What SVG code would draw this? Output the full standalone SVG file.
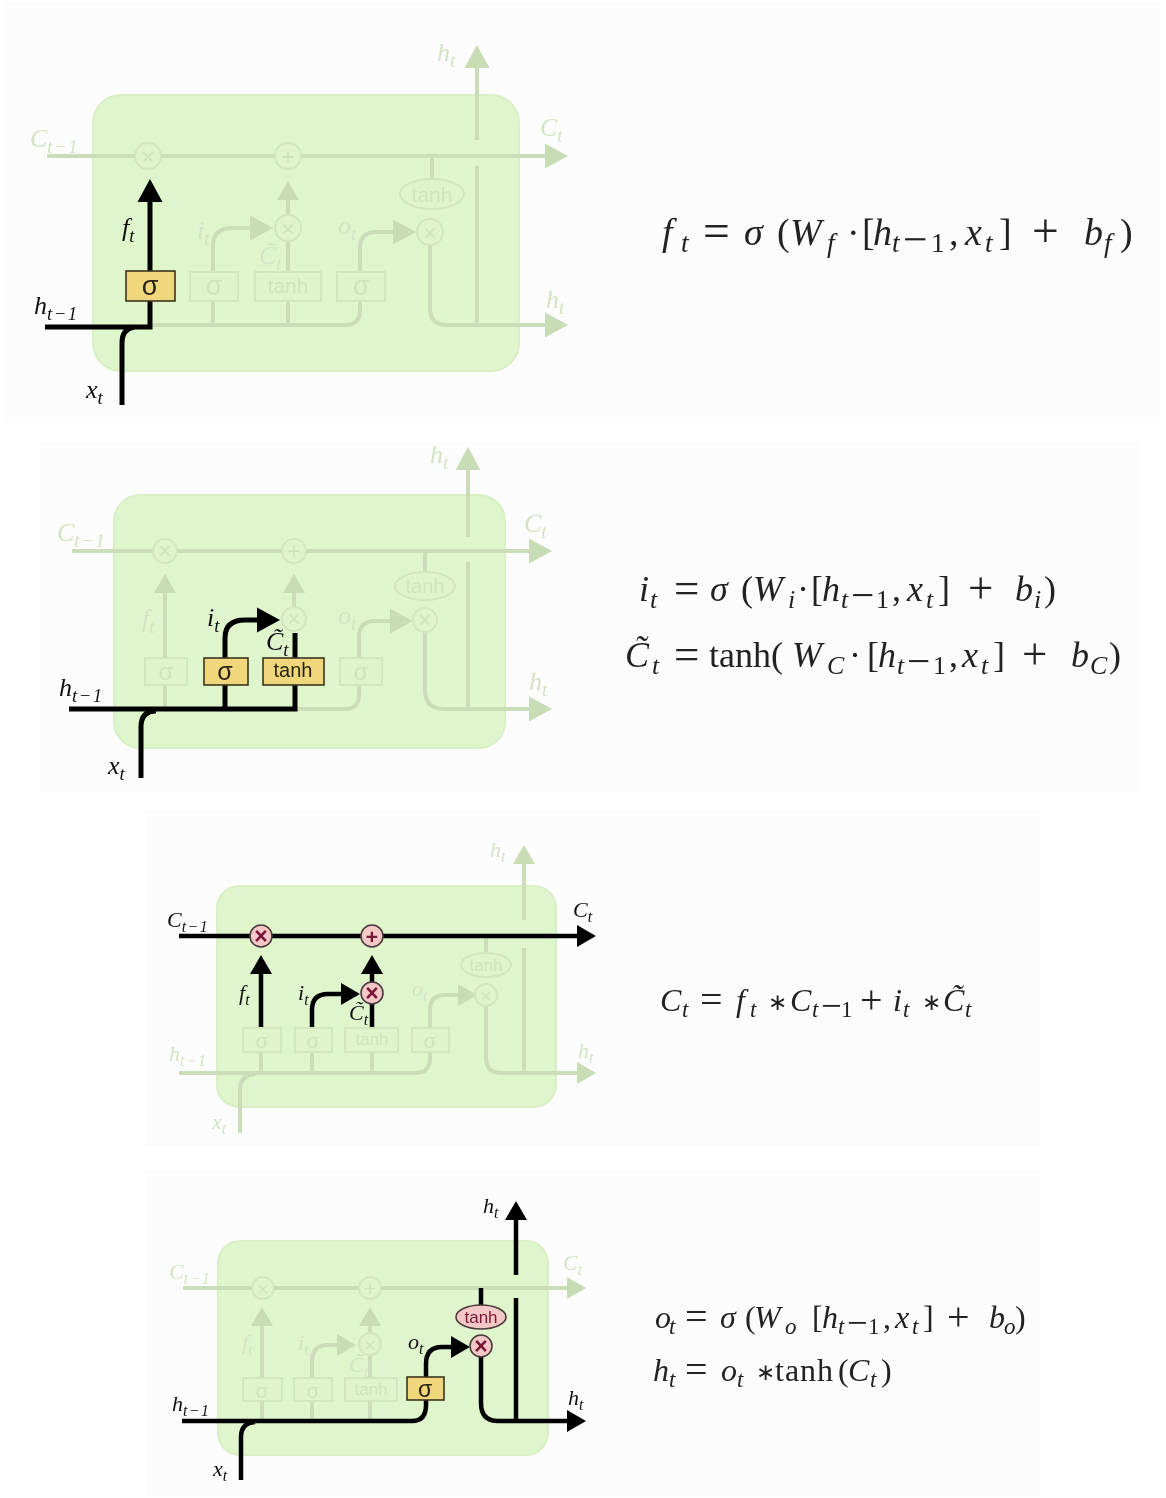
<svg xmlns="http://www.w3.org/2000/svg" width="1166" height="1498" viewBox="0 0 1166 1498">
<style>
text{font-family:"Liberation Serif","Times New Roman",serif;fill:#222}
.cell{fill:#dff5cc;stroke:#d9efc6;stroke-width:2}
.f{fill:none;stroke:#cbddb8;stroke-width:4}
.b{fill:none;stroke:#000;stroke-width:5}
.b3{stroke-width:4.5}
.fb{fill:#dff4cb;stroke:#d2e6bf;stroke-width:2}
.fc{fill:#dff4cb;stroke:#d2e6bf;stroke-width:2}
.bb{fill:#f0d77b;stroke:#3a3520;stroke-width:1.6}
.bc{fill:#f4c8c6;stroke:#4a3a3a;stroke-width:1.6}
.nl{font-family:"Liberation Sans",Arial,sans-serif;text-anchor:middle;dominant-baseline:central}
.nf{fill:#d0e4bc}
.nk{fill:#2a2410}
.np{fill:#7a1238}
.l{font-style:italic;font-size:26px;fill:#111}
.sm{font-size:22px}
.lf{fill:#d3e4c4}
.s{font-size:.72em}
.w{letter-spacing:1.5px}
.eq{font-size:38px;fill:#222}
.eqm{font-size:36px}
.eq2{font-size:32px}
.i{font-style:italic}
.r{font-style:normal}
.op{font-style:normal;font-size:1.25em}
.mn{font-style:normal;font-size:1.15em}
.ast{font-style:normal;font-size:.72em}
</style>
<defs>
<filter id="soft" x="0" y="0" width="1" height="1"><feGaussianBlur stdDeviation="0.6"/></filter>
<marker id="abL" markerUnits="userSpaceOnUse" markerWidth="24" markerHeight="28" refX="1" refY="14" orient="auto"><path d="M0,1.5 L23,14 L0,26.5Z" fill="#000"/></marker>
<marker id="afL" markerUnits="userSpaceOnUse" markerWidth="24" markerHeight="28" refX="1" refY="14" orient="auto"><path d="M0,1.5 L23,14 L0,26.5Z" fill="#c8dcb5"/></marker>
<marker id="abM" markerUnits="userSpaceOnUse" markerWidth="20" markerHeight="24" refX="1" refY="12" orient="auto"><path d="M0,1 L19,12 L0,23Z" fill="#000"/></marker>
<marker id="afM" markerUnits="userSpaceOnUse" markerWidth="20" markerHeight="24" refX="1" refY="12" orient="auto"><path d="M0,1 L19,12 L0,23Z" fill="#c8dcb5"/></marker>
</defs>
<rect width="1166" height="1498" fill="#fff"/>
<g filter="url(#soft)">
<g id="backdrops" fill="#fcfcfc">
<rect x="5" y="2" width="1155" height="418"/>
<rect x="40" y="442" width="1100" height="350"/>
<rect x="145" y="810" width="895" height="336"/>
<rect x="145" y="1170" width="895" height="326"/>
</g>
<g id="cell-1"><rect class="cell" x="93" y="95" width="426" height="276" rx="28"/></g>
<g id="cell-2"><rect class="cell" x="114" y="495" width="391" height="253" rx="26"/></g>
<g id="cell-3"><rect class="cell" x="217" y="886" width="339" height="221" rx="22"/></g>
<g id="cell-4"><rect class="cell" x="218" y="1241" width="330" height="214" rx="22"/></g>

<g id="connectors">
<g id="faded-1">
<path class="f" d="M47,156H546" marker-end="url(#afL)"/>
<path class="f" d="M477,140V67" marker-end="url(#afL)"/>
<path class="f" d="M477,166V325"/>
<path class="f" d="M150,325H345Q360,325 360,310V248Q360,232 376,232H394" marker-end="url(#afL)"/>
<path class="f" d="M213,325V246Q213,228 232,228H251" marker-end="url(#afL)"/>
<path class="f" d="M288,325V241"/>
<path class="f" d="M288,215V199" marker-end="url(#afM)"/>
<path class="f" d="M432,156V179"/>
<path class="f" d="M430,245V308Q430,325 447,325H546" marker-end="url(#afL)"/>
</g>
<g id="active-1">
<path class="b" d="M45,327H150V201" marker-end="url(#abL)"/>
<path class="b" d="M122,405V343Q122,329 134,327"/>
</g>
<g id="faded-2">
<path class="f" d="M72,551H530" marker-end="url(#afL)"/>
<path class="f" d="M468,537V469" marker-end="url(#afL)"/>
<path class="f" d="M468,562V709"/>
<path class="f" d="M295,709H345Q359,709 359,694V637Q359,621 375,621H391" marker-end="url(#afL)"/>
<path class="f" d="M165,709V592" marker-end="url(#afM)"/>
<path class="f" d="M294,607V592" marker-end="url(#afM)"/>
<path class="f" d="M425,551V572"/>
<path class="f" d="M425,633V690Q425,709 445,709H530" marker-end="url(#afL)"/>
</g>
<g id="active-2">
<path class="b" d="M69,709H295V633"/>
<path class="b" d="M225,709V638Q225,620 245,620H258" marker-end="url(#abL)"/>
<path class="b" d="M141,778V727Q141,711 156,711"/>
</g>
<g id="faded-3">
<path class="f" d="M179,1073H415Q430,1073 430,1058V1010Q430,995 445,995H459" marker-end="url(#afM)"/>
<path class="f" d="M240,1133V1090Q240,1075 255,1074"/>
<path class="f" d="M261,1052V1073M312,1052V1073M372,1052V1073"/>
<path class="f" d="M524,948V1073"/>
<path class="f" d="M524,920V863" marker-end="url(#afM)"/>
<path class="f" d="M486,936V953"/>
<path class="f" d="M486,1007V1058Q486,1073 502,1073H578" marker-end="url(#afM)"/>
</g>
<g id="active-3">
<path class="b b3" d="M179,936H578" marker-end="url(#abM)"/>
<path class="b b3" d="M261,1027V973" marker-end="url(#abM)"/>
<path class="b b3" d="M372,982V973" marker-end="url(#abM)"/>
<path class="b b3" d="M372,1003V1027"/>
<path class="b b3" d="M312,1027V1010Q312,994 328,994H342" marker-end="url(#abM)"/>
</g>
<g id="faded-4">
<path class="f" d="M183,1288H568" marker-end="url(#afM)"/>
<path class="f" d="M262,1421V1325" marker-end="url(#afM)"/>
<path class="f" d="M370,1421V1355"/>
<path class="f" d="M370,1333V1325" marker-end="url(#afM)"/>
<path class="f" d="M312,1421V1362Q312,1345 328,1345H338" marker-end="url(#afM)"/>
</g>
<g id="active-4">
<path class="b b3" d="M182,1421H412Q426,1421 426,1405V1364Q426,1347 442,1347H452" marker-end="url(#abM)"/>
<path class="b b3" d="M241,1480V1437Q241,1423 255,1422"/>
<path class="b b3" d="M481,1288V1305M481,1357V1403Q481,1421 498,1421H568" marker-end="url(#abM)"/>
<path class="b b3" d="M516,1421V1298"/>
<path class="b b3" d="M516,1275V1219" marker-end="url(#abM)"/>
</g>
</g>

<g id="p1-times"><circle class="fc" cx="148" cy="156" r="13"/><text class="nl nf" x="148" y="156" font-size="24">×</text></g>
<g id="p1-plus"><circle class="fc" cx="288" cy="156" r="13"/><text class="nl nf" x="288" y="156" font-size="24">+</text></g>
<g id="p1-mul-c"><circle class="fc" cx="288" cy="228" r="13"/><text class="nl nf" x="288" y="228" font-size="24">×</text></g>
<g id="p1-mul-o"><circle class="fc" cx="430" cy="232" r="13"/><text class="nl nf" x="430" y="232" font-size="24">×</text></g>
<g id="p1-tanh-h"><ellipse class="fc" cx="432" cy="194" rx="32" ry="15"/><text class="nl nf" x="432" y="194" font-size="21">tanh</text></g>
<g id="p1-sigma-f"><rect class="bb" x="126" y="271" width="49" height="30"/><text class="nl nk" x="150" y="286" font-size="27">σ</text></g>
<g id="p1-sigma-i"><rect class="fb" x="190" y="272" width="48" height="29"/><text class="nl nf" x="214" y="286" font-size="27">σ</text></g>
<g id="p1-tanh-c"><rect class="fb" x="255" y="272" width="66" height="29"/><text class="nl nf" x="288" y="285" font-size="21">tanh</text></g>
<g id="p1-sigma-o"><rect class="fb" x="337" y="272" width="48" height="29"/><text class="nl nf" x="361" y="286" font-size="27">σ</text></g>

<g id="p2-times"><circle class="fc" cx="165" cy="551" r="12"/><text class="nl nf" x="165" y="551" font-size="23">×</text></g>
<g id="p2-plus"><circle class="fc" cx="294" cy="551" r="12"/><text class="nl nf" x="294" y="551" font-size="23">+</text></g>
<g id="p2-mul-c"><circle class="fc" cx="294" cy="619" r="12"/><text class="nl nf" x="294" y="619" font-size="23">×</text></g>
<g id="p2-mul-o"><circle class="fc" cx="425" cy="620" r="12"/><text class="nl nf" x="425" y="620" font-size="23">×</text></g>
<g id="p2-tanh-h"><ellipse class="fc" cx="425" cy="586" rx="30" ry="14"/><text class="nl nf" x="425" y="586" font-size="20">tanh</text></g>
<g id="p2-sigma-f"><rect class="fb" x="145" y="658" width="42" height="27"/><text class="nl nf" x="166" y="671" font-size="24">σ</text></g>
<g id="p2-sigma-i"><rect class="bb" x="204" y="658" width="44" height="27"/><text class="nl nk" x="225" y="671" font-size="25">σ</text></g>
<g id="p2-tanh-c"><rect class="bb" x="263" y="658" width="61" height="27"/><text class="nl nk" x="293" y="670" font-size="20">tanh</text></g>
<g id="p2-sigma-o"><rect class="fb" x="340" y="658" width="42" height="27"/><text class="nl nf" x="361" y="671" font-size="24">σ</text></g>

<g id="p3-times"><circle class="bc" cx="261" cy="936" r="11"/><text class="nl np" x="261" y="936" font-size="23" font-weight="bold">×</text></g>
<g id="p3-plus"><circle class="bc" cx="372" cy="936" r="11"/><text class="nl np" x="372" y="936" font-size="21" font-weight="bold">+</text></g>
<g id="p3-mul-c"><circle class="bc" cx="372" cy="993" r="11"/><text class="nl np" x="372" y="993" font-size="23" font-weight="bold">×</text></g>
<g id="p3-mul-o"><circle class="fc" cx="486" cy="995" r="11"/><text class="nl nf" x="486" y="995" font-size="21">×</text></g>
<g id="p3-tanh-h"><ellipse class="fc" cx="486" cy="965" rx="25" ry="12"/><text class="nl nf" x="486" y="965" font-size="17">tanh</text></g>
<g id="p3-sigma-f"><rect class="fb" x="243" y="1028" width="38" height="24"/><text class="nl nf" x="262" y="1040" font-size="21">σ</text></g>
<g id="p3-sigma-i"><rect class="fb" x="295" y="1028" width="37" height="24"/><text class="nl nf" x="313" y="1040" font-size="21">σ</text></g>
<g id="p3-tanh-c"><rect class="fb" x="345" y="1028" width="53" height="24"/><text class="nl nf" x="372" y="1039" font-size="17">tanh</text></g>
<g id="p3-sigma-o"><rect class="fb" x="412" y="1028" width="37" height="24"/><text class="nl nf" x="430" y="1040" font-size="21">σ</text></g>

<g id="p4-times"><circle class="fc" cx="263" cy="1288" r="11"/><text class="nl nf" x="263" y="1288" font-size="21">×</text></g>
<g id="p4-plus"><circle class="fc" cx="370" cy="1288" r="11"/><text class="nl nf" x="370" y="1288" font-size="21">+</text></g>
<g id="p4-mul-c"><circle class="fc" cx="370" cy="1344" r="11"/><text class="nl nf" x="370" y="1344" font-size="21">×</text></g>
<g id="p4-mul-o"><circle class="bc" cx="481" cy="1346" r="11"/><text class="nl np" x="481" y="1346" font-size="23" font-weight="bold">×</text></g>
<g id="p4-tanh-h"><ellipse class="bc" cx="481" cy="1317" rx="25" ry="12"/><text class="nl np" x="481" y="1317" font-size="17">tanh</text></g>
<g id="p4-sigma-f"><rect class="fb" x="243" y="1378" width="39" height="23"/><text class="nl nf" x="262" y="1390" font-size="21">σ</text></g>
<g id="p4-sigma-i"><rect class="fb" x="294" y="1378" width="38" height="23"/><text class="nl nf" x="313" y="1390" font-size="21">σ</text></g>
<g id="p4-tanh-c"><rect class="fb" x="345" y="1378" width="52" height="23"/><text class="nl nf" x="371" y="1389" font-size="17">tanh</text></g>
<g id="p4-sigma-o"><rect class="bb" x="407" y="1377" width="37" height="23"/><text class="nl nk" x="425" y="1389" font-size="23">σ</text></g>

<g id="labels-1">
<text class="l lf" x="30" y="147">C<tspan class="s w" dy=".3em">t−1</tspan></text>
<text class="l lf" x="540" y="136">C<tspan class="s" dy=".3em">t</tspan></text>
<text class="l lf" x="437" y="61">h<tspan class="s" dy=".3em">t</tspan></text>
<text class="l lf" x="546" y="308">h<tspan class="s" dy=".3em">t</tspan></text>
<text class="l lf" x="197" y="239">i<tspan class="s" dy=".3em">t</tspan></text>
<text class="l lf" x="338" y="234">o<tspan class="s" dy=".3em">t</tspan></text>
<text class="l lf" x="259" y="264">C̃<tspan class="s" dy=".3em">t</tspan></text>
<text class="l" x="122" y="236">f<tspan class="s" dy=".3em">t</tspan></text>
<text class="l" x="34" y="314">h<tspan class="s w" dy=".3em">t−1</tspan></text>
<text class="l" x="86" y="398">x<tspan class="s" dy=".3em">t</tspan></text>
</g>
<g id="labels-2">
<text class="l lf" x="57" y="541">C<tspan class="s w" dy=".3em">t−1</tspan></text>
<text class="l lf" x="524" y="532">C<tspan class="s" dy=".3em">t</tspan></text>
<text class="l lf" x="430" y="463">h<tspan class="s" dy=".3em">t</tspan></text>
<text class="l lf" x="529" y="690">h<tspan class="s" dy=".3em">t</tspan></text>
<text class="l lf" x="142" y="627">f<tspan class="s" dy=".3em">t</tspan></text>
<text class="l lf" x="338" y="624">o<tspan class="s" dy=".3em">t</tspan></text>
<text class="l" x="59" y="696">h<tspan class="s w" dy=".3em">t−1</tspan></text>
<text class="l" x="108" y="774">x<tspan class="s" dy=".3em">t</tspan></text>
<text class="l" x="207" y="626">i<tspan class="s" dy=".3em">t</tspan></text>
<text class="l" x="266" y="650">C̃<tspan class="s" dy=".3em">t</tspan></text>
</g>
<g id="labels-3">
<text class="l sm" x="167" y="927">C<tspan class="s w" dy=".3em">t−1</tspan></text>
<text class="l sm" x="573" y="917">C<tspan class="s" dy=".3em">t</tspan></text>
<text class="l sm" x="239" y="1000">f<tspan class="s" dy=".3em">t</tspan></text>
<text class="l sm" x="298" y="1000">i<tspan class="s" dy=".3em">t</tspan></text>
<text class="l sm" x="349" y="1020">C̃<tspan class="s" dy=".3em">t</tspan></text>
<text class="l sm lf" x="490" y="857">h<tspan class="s" dy=".3em">t</tspan></text>
<text class="l sm lf" x="412" y="996">o<tspan class="s" dy=".3em">t</tspan></text>
<text class="l sm lf" x="169" y="1061">h<tspan class="s w" dy=".3em">t−1</tspan></text>
<text class="l sm lf" x="578" y="1058">h<tspan class="s" dy=".3em">t</tspan></text>
<text class="l sm lf" x="212" y="1129">x<tspan class="s" dy=".3em">t</tspan></text>
</g>
<g id="labels-4">
<text class="l sm" x="483" y="1213">h<tspan class="s" dy=".3em">t</tspan></text>
<text class="l sm lf" x="169" y="1279">C<tspan class="s w" dy=".3em">t−1</tspan></text>
<text class="l sm lf" x="563" y="1270">C<tspan class="s" dy=".3em">t</tspan></text>
<text class="l sm lf" x="242" y="1350">f<tspan class="s" dy=".3em">t</tspan></text>
<text class="l sm lf" x="298" y="1350">i<tspan class="s" dy=".3em">t</tspan></text>
<text class="l sm lf" x="349" y="1372">C̃<tspan class="s" dy=".3em">t</tspan></text>
<text class="l sm" x="408" y="1349">o<tspan class="s" dy=".3em">t</tspan></text>
<text class="l sm" x="172" y="1411">h<tspan class="s w" dy=".3em">t−1</tspan></text>
<text class="l sm" x="568" y="1405">h<tspan class="s" dy=".3em">t</tspan></text>
<text class="l sm" x="213" y="1476">x<tspan class="s" dy=".3em">t</tspan></text>
</g>

<g id="equations">
<text class="eq" y="245"><tspan class="i" x="662">f</tspan><tspan class="i s" x="681" y="252">t</tspan><tspan class="op" x="703" y="247">=</tspan><tspan class="i" x="744" y="245">σ</tspan><tspan class="r" x="777">(</tspan><tspan class="i" x="790">W</tspan><tspan class="i s" x="827" y="252">f</tspan><tspan class="r" x="847" y="245">·</tspan><tspan class="r" x="862">[</tspan><tspan class="i" x="873">h</tspan><tspan class="i s" x="892" y="252">t</tspan><tspan class="mn" x="903" y="254">−</tspan><tspan class="r s" x="931" y="252">1</tspan><tspan class="r" x="949" y="245">,</tspan><tspan class="i" x="965">x</tspan><tspan class="i s" x="985" y="252">t</tspan><tspan class="r" x="999" y="245">]</tspan><tspan class="op" x="1032" y="247">+</tspan><tspan class="i" x="1084" y="245">b</tspan><tspan class="i s" x="1104" y="252">f</tspan><tspan class="r" x="1120" y="245">)</tspan></text>
<text class="eq eqm" y="601"><tspan class="i" x="639">i</tspan><tspan class="i s" x="650" y="608">t</tspan><tspan class="op" x="674" y="603">=</tspan><tspan class="i" x="710" y="601">σ</tspan><tspan class="r" x="741">(</tspan><tspan class="i" x="753">W</tspan><tspan class="i s" x="788" y="608">i</tspan><tspan class="r" x="797" y="601">·</tspan><tspan class="r" x="811">[</tspan><tspan class="i" x="822">h</tspan><tspan class="i s" x="841" y="608">t</tspan><tspan class="mn" x="851" y="609">−</tspan><tspan class="r s" x="876" y="608">1</tspan><tspan class="r" x="892" y="601">,</tspan><tspan class="i" x="907">x</tspan><tspan class="i s" x="926" y="608">t</tspan><tspan class="r" x="938" y="601">]</tspan><tspan class="op" x="968" y="603">+</tspan><tspan class="i" x="1015" y="601">b</tspan><tspan class="i s" x="1034" y="608">i</tspan><tspan class="r" x="1044" y="601">)</tspan></text>
<text class="eq eqm" y="667"><tspan class="i" x="625">C̃</tspan><tspan class="i s" x="652" y="674">t</tspan><tspan class="op" x="674" y="669">=</tspan><tspan class="r" x="709" y="667">tanh(</tspan><tspan class="i" x="792">W</tspan><tspan class="i s" x="827" y="674">C</tspan><tspan class="r" x="849" y="667">·</tspan><tspan class="r" x="867">[</tspan><tspan class="i" x="878">h</tspan><tspan class="i s" x="897" y="674">t</tspan><tspan class="mn" x="907" y="675">−</tspan><tspan class="r s" x="933" y="674">1</tspan><tspan class="r" x="949" y="667">,</tspan><tspan class="i" x="962">x</tspan><tspan class="i s" x="981" y="674">t</tspan><tspan class="r" x="993" y="667">]</tspan><tspan class="op" x="1022" y="669">+</tspan><tspan class="i" x="1071" y="667">b</tspan><tspan class="i s" x="1090" y="674">C</tspan><tspan class="r" x="1109" y="667">)</tspan></text>
<text class="eq eq2" y="1011"><tspan class="i" x="660">C</tspan><tspan class="i s" x="682" y="1017">t</tspan><tspan class="op" x="700" y="1013">=</tspan><tspan class="i" x="736" y="1011">f</tspan><tspan class="i s" x="750" y="1017">t</tspan><tspan class="ast" x="768" y="1010">∗</tspan><tspan class="i" x="790" y="1011">C</tspan><tspan class="i s" x="812" y="1017">t</tspan><tspan class="mn" x="821" y="1018">−</tspan><tspan class="r s" x="841" y="1017">1</tspan><tspan class="op" x="860" y="1013">+</tspan><tspan class="i" x="893" y="1011">i</tspan><tspan class="i s" x="903" y="1017">t</tspan><tspan class="ast" x="922" y="1010">∗</tspan><tspan class="i" x="943" y="1011">C̃</tspan><tspan class="i s" x="965" y="1017">t</tspan></text>
<text class="eq eq2" y="1328"><tspan class="i" x="655">o</tspan><tspan class="i s" x="669" y="1334">t</tspan><tspan class="op" x="685" y="1330">=</tspan><tspan class="i" x="720" y="1328">σ</tspan><tspan class="r" x="745">(</tspan><tspan class="i" x="754">W</tspan><tspan class="i s" x="785" y="1334">o</tspan><tspan class="r" x="812" y="1328">[</tspan><tspan class="i" x="822">h</tspan><tspan class="i s" x="838" y="1334">t</tspan><tspan class="mn" x="847" y="1335">−</tspan><tspan class="r s" x="868" y="1334">1</tspan><tspan class="r" x="883" y="1328">,</tspan><tspan class="i" x="895">x</tspan><tspan class="i s" x="912" y="1334">t</tspan><tspan class="r" x="923" y="1328">]</tspan><tspan class="op" x="947" y="1330">+</tspan><tspan class="i" x="989" y="1328">b</tspan><tspan class="i s" x="1004" y="1334">o</tspan><tspan class="r" x="1015" y="1328">)</tspan></text>
<text class="eq eq2" y="1381"><tspan class="i" x="653">h</tspan><tspan class="i s" x="669" y="1387">t</tspan><tspan class="op" x="685" y="1383">=</tspan><tspan class="i" x="721" y="1381">o</tspan><tspan class="i s" x="737" y="1387">t</tspan><tspan class="ast" x="756" y="1380">∗</tspan><tspan class="r" x="775" y="1381" letter-spacing="1">tanh</tspan><tspan class="r" x="838">(</tspan><tspan class="i" x="848">C</tspan><tspan class="i s" x="870" y="1387">t</tspan><tspan class="r" x="881" y="1381">)</tspan></text>
</g>
</g>
</svg>
